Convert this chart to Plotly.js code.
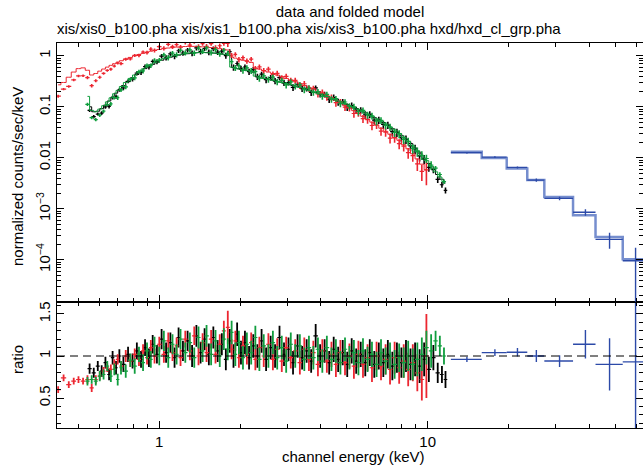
<!DOCTYPE html>
<html><head><meta charset="utf-8">
<script src="https://cdn.plot.ly/plotly-3.0.1.min.js"></script>
<style>html,body{margin:0;padding:0;overflow:hidden;background:#fff}#chart{width:643px;height:467px}</style>
</head><body><div id="chart"></div>
<script>
// ---------- XIS1 (red) ----------
const energyXIS1 = [0.42,0.44,0.46,0.48,0.50,0.52,0.54,0.56,0.58,0.60,
 0.62,0.64,0.66,0.68,0.70,0.72,0.75,0.78,0.81,0.84,
 0.87,0.90,0.93,0.96,1.00,1.04,1.08,1.12,1.16,1.20,
 1.25,1.30,1.35,1.40,1.45,1.50,1.56,1.62,1.68,1.74,
 1.80,1.86,1.92,1.98,2.05,2.12,2.20,2.28,2.36,2.45,
 2.55,2.65,2.75,2.86,2.97,3.09,3.21,3.34,3.47,3.61,
 3.75,3.90,4.05,4.21,4.38,4.55,4.73,4.92,5.11,5.31,
 5.52,5.74,5.97,6.20,6.45,6.70,6.97,7.24,7.53,7.83,
 8.14,8.46,8.80,9.15,9.51,9.89];
const modelXIS1 = [0.27,0.30,0.38,0.48,0.56,0.58,0.52,0.42,0.45,0.50,
 0.55,0.60,0.65,0.70,0.75,0.80,0.86,0.93,1.00,1.06,
 1.12,1.18,1.23,1.28,1.33,1.38,1.42,1.45,1.48,1.50,
 1.52,1.53,1.53,1.52,1.50,1.48,1.45,1.42,1.38,1.34,
 1.30,0.95,0.90,0.86,0.82,0.78,0.74,0.58,0.55,0.51,
 0.48,0.45,0.42,0.39,0.36,0.335,0.31,0.285,0.262,0.24,
 0.22,0.20,0.182,0.165,0.149,0.134,0.120,0.107,0.095,0.084,
 0.074,0.065,0.057,0.050,0.044,0.038,0.033,0.029,0.025,0.022,
 0.018,0.015,0.012,0.0095,0.0075,0.0058];
const ratioXIS1 = [0.60,0.74,0.66,0.70,0.72,0.70,0.72,0.62,0.72,0.76,
 0.82,0.86,0.84,0.90,0.96,0.88,1.00,0.94,1.02,0.96,
 1.06,0.98,1.10,1.00,1.14,1.02,1.18,1.04,1.12,0.98,
 1.20,1.06,1.24,1.00,1.16,1.04,1.20,1.02,1.14,1.30,
 1.34,1.08,1.18,0.98,1.12,1.02,1.16,0.96,1.10,1.00,
 1.14,0.96,1.08,0.94,1.10,0.98,1.06,0.92,1.08,0.96,
 1.04,0.90,1.06,0.94,1.02,0.90,1.04,0.92,1.00,0.88,
 1.02,0.90,0.98,0.86,1.00,0.88,0.96,0.84,0.98,0.86,
 0.94,0.84,0.92,0.80,0.72,1.00];
const errXIS1 = [0.04,0.04,0.04,0.04,0.04,0.04,0.05,0.05,0.05,0.05,
 0.05,0.05,0.06,0.06,0.06,0.06,0.07,0.07,0.07,0.08,
 0.08,0.08,0.09,0.09,0.09,0.10,0.10,0.10,0.10,0.10,
 0.10,0.11,0.11,0.11,0.11,0.11,0.11,0.11,0.12,0.12,
 0.20,0.12,0.12,0.12,0.12,0.12,0.12,0.13,0.13,0.13,
 0.13,0.13,0.13,0.13,0.13,0.13,0.14,0.14,0.14,0.14,
 0.14,0.14,0.14,0.14,0.15,0.15,0.15,0.15,0.15,0.15,
 0.16,0.16,0.16,0.17,0.17,0.17,0.18,0.18,0.19,0.19,
 0.20,0.20,0.22,0.22,0.25,0.50];

// ---------- XIS3 (green) ----------
const energyXIS3 = [0.54,0.56,0.58,0.60,0.62,0.64,0.66,0.68,0.70,0.72,
 0.75,0.78,0.81,0.84,0.87,0.90,0.93,0.96,1.00,1.04,
 1.08,1.12,1.16,1.20,1.25,1.30,1.35,1.40,1.45,1.50,
 1.56,1.62,1.68,1.74,1.80,1.86,1.92,1.98,2.05,2.12,
 2.20,2.28,2.36,2.45,2.55,2.65,2.75,2.86,2.97,3.09,
 3.21,3.34,3.47,3.61,3.75,3.90,4.05,4.21,4.38,4.55,
 4.73,4.92,5.11,5.31,5.52,5.74,5.97,6.20,6.45,6.70,
 6.97,7.24,7.53,7.83,8.14,8.46,8.80,9.15,9.51,9.89,
 10.3,10.7,11.1,11.5];
const modelXIS3 = [0.16,0.085,0.08,0.09,0.105,0.125,0.15,0.18,0.21,0.25,
 0.30,0.36,0.42,0.48,0.55,0.61,0.67,0.73,0.82,0.88,
 0.94,0.99,1.03,1.07,1.10,1.13,1.15,1.16,1.16,1.15,
 1.14,1.12,1.10,1.07,1.04,0.60,0.57,0.55,0.53,0.51,
 0.49,0.40,0.38,0.36,0.345,0.33,0.315,0.30,0.285,0.27,
 0.255,0.24,0.225,0.21,0.197,0.184,0.171,0.159,0.147,0.136,
 0.125,0.115,0.105,0.096,0.088,0.080,0.072,0.065,0.058,0.052,
 0.046,0.040,0.035,0.030,0.025,0.021,0.017,0.0138,0.011,0.0088,
 0.0068,0.0053,0.0042,0.0034];
const ratioXIS3 = [0.70,0.72,0.70,0.76,0.78,0.88,0.76,0.84,0.72,0.86,
 0.82,0.95,0.88,1.02,0.92,1.06,0.96,1.12,1.00,1.18,
 0.98,1.14,1.02,1.20,1.04,1.16,0.98,1.22,1.06,1.24,
 1.02,1.18,1.00,1.20,1.08,1.28,1.02,1.16,0.98,1.14,
 1.04,1.22,0.96,1.12,1.00,1.16,0.98,1.10,0.94,1.14,
 1.00,1.12,0.96,1.10,0.98,1.08,0.94,1.10,0.96,1.06,
 0.92,1.08,0.98,1.04,0.92,1.06,0.96,1.02,0.90,1.04,
 0.94,1.00,0.90,0.98,0.92,1.00,0.90,0.96,1.02,1.10,
 1.06,1.18,1.12,1.00];
const errXIS3 = [0.05,0.05,0.05,0.06,0.06,0.06,0.07,0.07,0.07,0.08,
 0.08,0.08,0.09,0.09,0.10,0.10,0.10,0.11,0.11,0.12,
 0.12,0.12,0.12,0.12,0.12,0.12,0.12,0.13,0.13,0.13,
 0.13,0.13,0.13,0.13,0.13,0.14,0.14,0.14,0.14,0.14,
 0.14,0.14,0.14,0.14,0.14,0.14,0.14,0.14,0.14,0.14,
 0.14,0.14,0.14,0.14,0.14,0.14,0.14,0.14,0.14,0.14,
 0.14,0.14,0.14,0.15,0.15,0.15,0.15,0.15,0.15,0.16,
 0.16,0.16,0.17,0.17,0.18,0.18,0.19,0.20,0.20,0.20,
 0.20,0.12,0.12,0.10];

// ---------- XIS0 (black) ----------
const energyXIS0 = [0.55,0.57,0.59,0.61,0.63,0.65,0.67,0.69,0.71,0.735,
 0.765,0.795,0.825,0.855,0.885,0.915,0.945,0.98,1.02,1.06,
 1.10,1.14,1.18,1.225,1.275,1.325,1.375,1.425,1.475,1.53,
 1.59,1.65,1.71,1.77,1.83,1.89,1.95,2.015,2.085,2.16,
 2.24,2.32,2.405,2.50,2.60,2.70,2.805,2.915,3.03,3.15,
 3.275,3.405,3.54,3.68,3.825,3.975,4.13,4.295,4.465,4.64,
 4.825,5.015,5.21,5.415,5.63,5.855,6.085,6.325,6.575,6.835,
 7.105,7.385,7.68,7.98,8.30,8.63,8.975,9.33,9.70,10.1,
 10.5,10.9,11.3,11.65];
const modelXIS0 = [0.10,0.080,0.082,0.092,0.108,0.13,0.155,0.185,0.215,0.26,
 0.31,0.37,0.43,0.49,0.56,0.62,0.68,0.75,0.82,0.88,
 0.94,0.99,1.03,1.07,1.10,1.13,1.15,1.16,1.16,1.15,
 1.13,1.11,1.08,1.05,1.02,0.59,0.56,0.54,0.52,0.50,
 0.48,0.39,0.37,0.355,0.34,0.322,0.307,0.292,0.277,0.262,
 0.247,0.232,0.217,0.203,0.19,0.177,0.165,0.153,0.141,0.130,
 0.120,0.110,0.100,0.092,0.084,0.076,0.068,0.061,0.055,0.049,
 0.043,0.037,0.032,0.027,0.023,0.019,0.0155,0.0124,0.0098,0.0077,
 0.006,0.0047,0.0038,0.0032];
const ratioXIS0 = [0.85,0.80,0.88,0.82,0.92,0.78,0.98,0.86,1.00,0.90,
 1.02,0.94,1.06,0.96,1.10,0.98,1.14,1.02,1.20,1.04,
 1.16,0.98,1.22,1.06,1.18,1.00,1.24,1.04,1.20,1.02,
 1.22,1.06,1.14,0.96,1.18,1.00,1.26,1.04,1.16,0.98,
 1.12,1.00,1.18,0.96,1.10,1.00,1.22,1.02,1.08,0.92,
 1.12,0.98,1.06,0.94,1.24,1.00,1.06,0.92,1.08,0.96,
 1.04,0.90,1.06,0.94,1.02,0.92,1.04,0.90,1.00,0.92,
 1.02,0.88,0.98,0.92,1.00,0.90,0.96,0.88,0.96,0.84,
 0.98,0.80,0.78,0.72];
const errXIS0 = [0.06,0.06,0.06,0.07,0.07,0.07,0.08,0.08,0.08,0.09,
 0.09,0.09,0.10,0.10,0.10,0.11,0.11,0.11,0.12,0.12,
 0.12,0.12,0.12,0.12,0.12,0.13,0.13,0.13,0.13,0.13,
 0.13,0.13,0.13,0.13,0.14,0.14,0.14,0.14,0.14,0.14,
 0.14,0.14,0.14,0.14,0.14,0.14,0.14,0.14,0.14,0.14,
 0.14,0.14,0.14,0.14,0.14,0.14,0.14,0.14,0.15,0.15,
 0.15,0.15,0.15,0.15,0.15,0.16,0.16,0.16,0.16,0.17,
 0.17,0.17,0.18,0.18,0.19,0.19,0.20,0.20,0.20,0.15,
 0.15,0.12,0.10,0.10];

// ---------- HXD (blue) ----------
const hxdEdges  = [12.2,15.9,19.7,23.5,27.2,34.8,42.2,53.3,70];
const hxdEnergy = [14.0,17.8,21.6,25.4,31.0,38.7,47.6,59.5];
const modelHXD  = [0.0131,0.0099,0.0062,0.00365,0.0017,0.00075,0.00028,0.000103];
const ratioHXD  = [0.96,1.04,1.045,1.00,0.94,1.14,0.90,0.93];
const errHXDup  = [0.03,0.04,0.05,0.07,0.07,0.17,0.31,0.75];
const errHXDdn  = [0.03,0.04,0.05,0.07,0.07,0.17,0.31,0.83];

// ---------- tick labels ----------
const xTickVals = [1,10];
const xTickText = ['1','10'];
const yTickVals = [1e-4,1e-3,0.01,0.1,1];
const yTickText = ['10<sup>−4</sup>','10<sup>−3</sup>','0.01','0.1','1'];
const rTickVals = [0.5,1,1.5];
const rTickText = ['0.5','1','1.5'];

const FONT = 'Liberation Sans, Arial, Helvetica, sans-serif';
const C_BLACK='#000000', C_RED='rgb(236,38,48)', C_GREEN='rgb(16,158,62)',
      C_BLUE='rgb(44,74,168)', C_BLUEM='rgba(72,104,190,0.75)';

function logHalfWidths(e){
  const lo=[], hi=[], n=e.length;
  for(let i=0;i<n;i++){
    const prev = i>0 ? e[i-1] : e[i]*e[i]/e[i+1];
    const next = i<n-1 ? e[i+1] : e[i]*e[i]/e[i-1];
    lo.push(e[i]-Math.sqrt(prev*e[i]));
    hi.push(Math.sqrt(e[i]*next)-e[i]);
  }
  return [lo,hi];
}
function errObj(up, dn, color, th){
  return {type:'data', symmetric:false, array:up, arrayminus:dn, color:color, thickness:th||1.2, width:0};
}
function xis(E, M, R, ER, color){
  const [lo,hi] = logHalfWidths(E);
  const D = M.map((m,i)=>m*R[i]);
  const DE = M.map((m,i)=>m*ER[i]);
  const DEm = DE.map((d,i)=>Math.min(d, D[i]*0.999));
  return {
    model:{x:E, y:M, xaxis:'x2', yaxis:'y2', mode:'lines', line:{shape:'hvh', color:color, width:1}, hoverinfo:'skip'},
    data:{x:E, y:D, xaxis:'x2', yaxis:'y2', mode:'markers', marker:{size:1, color:color},
          error_x:errObj(hi,lo,color), error_y:errObj(DE,DEm,color,1.6), hoverinfo:'skip'},
    ratio:{x:E, y:R, xaxis:'x', yaxis:'y', mode:'markers', marker:{size:1, color:color},
          error_x:errObj(hi,lo,color), error_y:errObj(ER,ER,color,1.8), hoverinfo:'skip'}
  };
}
const s0 = xis(energyXIS0, modelXIS0, ratioXIS0, errXIS0, C_BLACK);
const s1 = xis(energyXIS1, modelXIS1, ratioXIS1, errXIS1, C_RED);
const s3 = xis(energyXIS3, modelXIS3, ratioXIS3, errXIS3, C_GREEN);

const hxLo = hxdEnergy.map((e,i)=>e-hxdEdges[i]);
const hxHi = hxdEnergy.map((e,i)=>hxdEdges[i+1]-e);
const hxD  = modelHXD.map((m,i)=>m*ratioHXD[i]);
const hxUp = modelHXD.map((m,i)=>m*errHXDup[i]);
const hxDn = modelHXD.map((m,i)=>Math.min(m*errHXDdn[i], hxD[i]*0.999));
const hxdModel = {x:hxdEdges, y:modelHXD.concat([modelHXD[modelHXD.length-1]]), xaxis:'x2', yaxis:'y2',
  mode:'lines', line:{shape:'hv', color:C_BLUEM, width:2.5}, hoverinfo:'skip'};
const hxdData = {x:hxdEnergy, y:hxD, xaxis:'x2', yaxis:'y2', mode:'markers', marker:{size:1,color:C_BLUE},
  error_x:errObj(hxHi,hxLo,C_BLUE,1.4), error_y:errObj(hxUp,hxDn,C_BLUE,1.4), hoverinfo:'skip'};
const hxdRatio = {x:hxdEnergy, y:ratioHXD, xaxis:'x', yaxis:'y', mode:'markers', marker:{size:1,color:C_BLUE},
  error_x:errObj(hxHi,hxLo,C_BLUE,1.4), error_y:errObj(errHXDup,errHXDdn,C_BLUE,1.4), hoverinfo:'skip'};

// minor tick positions
const xMinor=[]; [0.1,1,10].forEach(d=>{for(let k=2;k<=9;k++){const v=k*d; if(v>0.41&&v<64) xMinor.push(v);}});
const yMinor=[]; [1e-5,1e-4,1e-3,1e-2,1e-1,1].forEach(d=>{for(let k=2;k<=9;k++){const v=k*d; if(v>1.5e-5&&v<1.78) yMinor.push(v);}});
const rMinor=[]; for(let k=2;k<=16;k++){ if(k%5!==0) rMinor.push(k/10); }

const common = {showline:true, linecolor:'#000', linewidth:1, mirror:'allticks', ticks:'inside', ticklen:7,
  tickwidth:1, tickcolor:'#000', showgrid:false, zeroline:false, tickmode:'array',
  tickfont:{family:FONT, size:15, color:'#000'}};
const minorOf = vals => ({tickmode:'array', tickvals:vals, ticks:'inside', ticklen:4, tickwidth:1, tickcolor:'#000', showgrid:false});

const layout = {
  width:643, height:467, paper_bgcolor:'#fff', plot_bgcolor:'#fff', showlegend:false,
  margin:{l:57, r:0, t:43, b:39},
  font:{family:FONT, size:15, color:'#000'},
  title:{text:'data and folded model', font:{family:FONT, size:15, color:'#000'}, x:0.5, xref:'paper',
         y:1-12/467, yref:'container', yanchor:'middle'},
  xaxis:Object.assign({}, common, {type:'log', range:[-0.3811,1.8022], anchor:'y',
         tickvals:xTickVals, ticktext:xTickText, minor:minorOf(xMinor)}),
  xaxis2:Object.assign({}, common, {type:'log', range:[-0.3811,1.8022], anchor:'y2', matches:'x',
         tickvals:xTickVals, ticktext:xTickText, showticklabels:false, minor:minorOf(xMinor)}),
  yaxis:Object.assign({}, common, {domain:[0,0.328], range:[0.143,1.646], anchor:'x',
         tickvals:rTickVals, ticktext:rTickText, tickangle:-90, minor:minorOf(rMinor)}),
  yaxis2:Object.assign({}, common, {type:'log', domain:[0.328,1], range:[-4.822,0.251], anchor:'x2',
         tickvals:yTickVals, ticktext:yTickText, tickangle:-90, minor:minorOf(yMinor)}),
  shapes:[{type:'line', xref:'paper', x0:0, x1:1, yref:'y', y0:1, y1:1, layer:'above',
           line:{color:'#000', width:1, dash:'8px,5px'}}],
  annotations:[
    {text:'xis/xis0_b100.pha xis/xis1_b100.pha xis/xis3_b100.pha hxd/hxd_cl_grp.pha', xref:'paper', yref:'paper',
     x:0, xanchor:'left', xshift:-2, y:1+14/385, yanchor:'middle', showarrow:false, font:{family:FONT,size:15,color:'#000'}},
    {text:'normalized counts/sec/keV', xref:'paper', yref:'paper', x:(17-57)/586, y:(428-177)/385,
     xanchor:'center', yanchor:'middle', textangle:-90, showarrow:false, font:{family:FONT,size:15,color:'#000'}},
    {text:'ratio', xref:'paper', yref:'paper', x:(17-57)/586, y:(428-360)/385,
     xanchor:'center', yanchor:'middle', textangle:-90, showarrow:false, font:{family:FONT,size:15,color:'#000'}},
    {text:'channel energy (keV)', xref:'paper', yref:'paper', x:(353-57)/586, y:(428-456)/385,
     xanchor:'center', yanchor:'middle', showarrow:false, font:{family:FONT,size:15,color:'#000'}}
  ]
};

const traces = [s0.model, s0.data, s1.model, s1.data, s3.model, s3.data, hxdModel, hxdData,
                s0.ratio, s1.ratio, s3.ratio, hxdRatio];
Plotly.newPlot('chart', traces, layout, {staticPlot:true, displayModeBar:false});
</script>
</body></html>
